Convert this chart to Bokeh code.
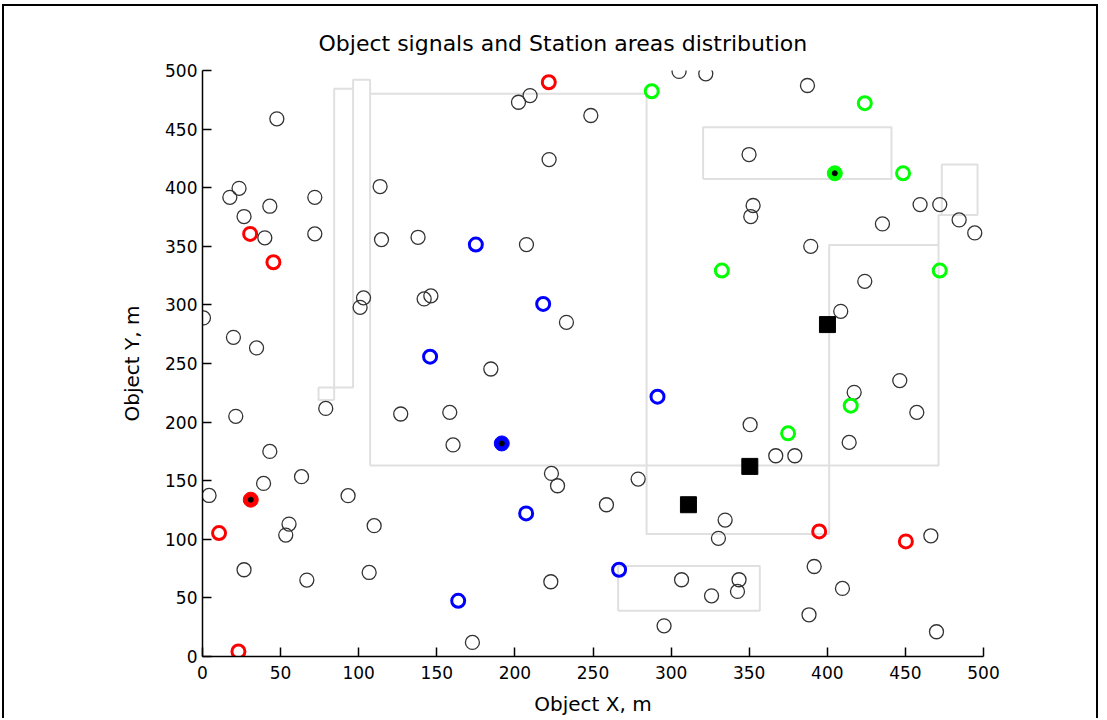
from bokeh.plotting import figure
from bokeh.embed import file_html
from bokeh.resources import INLINE
from bokeh.models import FixedTicker

# ---------------- data ----------------
title_text = "Object signals and Station areas distribution"
x_label = "Object X, m"
y_label = "Object Y, m"
tick_values = [0, 50, 100, 150, 200, 250, 300, 350, 400, 450, 500]

# plain (black) object signals
obj_x = [47.6, 23.4, 17.5, 43.1, 71.9, 26.6, 39.9, 71.9, 113.7, 114.6, 103.1, 100.9,
         202.3, 209.7, 248.6, 221.9, 138.0, 207.4, 146.2, 141.9, 305.1, 322.2, 349.9,
         352.5, 351.0, 387.3, 459.4, 472.0, 484.4, 494.4, 435.3, 389.4, 424.0, 0.6,
         19.8, 34.6, 21.3, 78.9, 43.1, 63.4, 39.1, 4.2, 93.2, 55.4, 53.3, 109.9, 233.0,
         184.6, 126.9, 158.3, 160.4, 223.4, 227.3, 350.6, 367.0, 379.2, 278.9, 258.6,
         334.6, 330.3, 408.6, 446.4, 417.2, 457.3, 414.0, 26.6, 66.8, 106.7, 223.0,
         172.8, 466.3, 306.7, 325.9, 343.5, 342.5, 391.6, 409.7, 388.3, 469.9, 295.5]
obj_y = [458.8, 399.5, 391.8, 384.2, 391.8, 375.4, 357.2, 360.6, 401.0, 355.7, 306.0, 297.9,
         472.9, 478.6, 461.6, 424.0, 357.7, 351.5, 307.7, 305.1, 499.2, 497.2, 428.3,
         384.8, 375.4, 487.2, 385.6, 385.6, 372.5, 361.4, 369.1, 350.0, 320.1, 288.9,
         272.3, 263.3, 204.9, 211.7, 175.0, 153.4, 147.7, 137.4, 137.2, 113.0, 103.6, 111.6, 285.1,
         245.3, 206.9, 208.3, 180.5, 156.2, 145.7, 197.8, 171.3, 171.3, 151.4, 129.5,
         116.4, 100.8, 294.5, 235.4, 225.4, 208.3, 182.7, 74.0, 65.2, 71.7, 63.8,
         12.0, 103.0, 65.5, 51.8, 65.5, 55.5, 76.8, 58.1, 35.6, 21.1, 26.2]

# signals coloured by station
red_x = [221.7, 30.5, 45.4, 10.6, 23.0, 394.8, 450.3]
red_y = [490.0, 360.6, 336.4, 105.3, 4.3, 106.7, 98.2]
red_hit_x = [30.9]
red_hit_y = [133.8]

blue_x = [175.0, 218.1, 145.7, 291.3, 207.2, 266.7, 163.7]
blue_y = [351.5, 300.8, 255.8, 221.7, 122.1, 74.0, 47.5]
blue_hit_x = [191.6]
blue_hit_y = [181.8]

green_x = [287.6, 424.0, 448.5, 332.5, 472.0, 415.0, 374.9]
green_y = [482.3, 472.1, 412.3, 329.3, 329.3, 214.0, 190.4]
green_hit_x = [404.8]
green_hit_y = [412.3]

# stations
station_x = [400.1, 350.4, 311.1]
station_y = [283.2, 162.2, 129.5]

# station area outlines
area_xs = [
    [84.3, 84.3, 96.4],
    [84.3, 74.3, 74.3, 96.4, 96.4, 107.3, 107.3],
    [107.3, 284.3, 284.3, 401.2, 401.2, 471.2],
    [107.3, 471.2, 471.2, 496.2, 496.2, 473.3, 473.3],
    [320.5, 441.1, 441.1, 320.5, 320.5],
    [266.1, 356.8, 356.8, 266.1, 266.1],
]
area_ys = [
    [218.9, 484.4, 484.4],
    [218.9, 218.9, 229.6, 229.6, 492.1, 492.1, 163.0],
    [480.1, 480.1, 104.5, 104.5, 351.2, 351.2],
    [163.0, 163.0, 376.8, 376.8, 419.8, 419.8, 376.8],
    [407.5, 407.5, 451.6, 451.6, 407.5],
    [39.0, 39.0, 77.2, 77.2, 39.0],
]

# ---------------- figure ----------------
FONT = "DejaVu Sans"
p = figure(width=1096, height=714, x_range=(0, 500), y_range=(0, 500),
           output_backend="svg", toolbar_location=None,
           min_border_left=198, min_border_right=117,
           min_border_top=64, min_border_bottom=64,
           title=title_text)
p.styles = {"border-top": "2px solid black", "border-left": "2px solid black",
            "border-right": "2px solid black", "margin-left": "2px", "margin-top": "4px"}

p.title.align = "left"
p.title.offset = 116
p.title.text_font = FONT
p.title.text_font_size = "22px"
p.title.text_font_style = "normal"
p.title.text_color = "black"
p.title.standoff = 30

p.xgrid.visible = False
p.ygrid.visible = False
p.outline_line_color = None
p.background_fill_color = "white"
p.border_fill_color = "white"

for ax, lab in ((p.xaxis, x_label), (p.yaxis, y_label)):
    ax.ticker = FixedTicker(ticks=tick_values)
    ax.axis_label = lab
    ax.axis_label_text_font = FONT
    ax.axis_label_text_font_size = "20px"
    ax.axis_label_text_font_style = "normal"
    ax.axis_label_text_color = "black"
    ax.major_label_text_font = FONT
    ax.major_label_text_font_size = "17px"
    ax.major_label_text_color = "black"
    ax.major_tick_in = 9
    ax.major_tick_out = 0
    ax.minor_tick_line_color = None
    ax.axis_line_color = "black"
    ax.axis_line_width = 1.5
    ax.major_tick_line_color = "black"
    ax.major_tick_line_width = 1.5
p.xaxis.major_label_standoff = 9
p.yaxis.major_label_standoff = 5
p.xaxis.axis_label_standoff = 10
p.yaxis.axis_label_standoff = 18

# station areas
p.multi_line(area_xs, area_ys, line_color="#e0e0e0", line_width=2)

# object signals
p.scatter(obj_x, obj_y, marker="circle", size=14, fill_color=None,
          line_color="#333333", line_width=1.3)
for cx, cy, hx, hy, col in ((red_x, red_y, red_hit_x, red_hit_y, "#ff0000"),
                            (blue_x, blue_y, blue_hit_x, blue_hit_y, "#0000ff"),
                            (green_x, green_y, green_hit_x, green_hit_y, "#00ff00")):
    p.scatter(cx, cy, marker="circle", size=13, fill_color=None,
              line_color=col, line_width=3)
    p.scatter(hx, hy, marker="circle", size=15, fill_color=col, line_color=col)
    p.scatter(hx, hy, marker="circle", size=5, fill_color="black", line_color="black")

# stations
p.scatter(station_x, station_y, marker="square", size=16, fill_color="black",
          line_color="black")

open("out.html", "w").write(file_html(p, INLINE))
